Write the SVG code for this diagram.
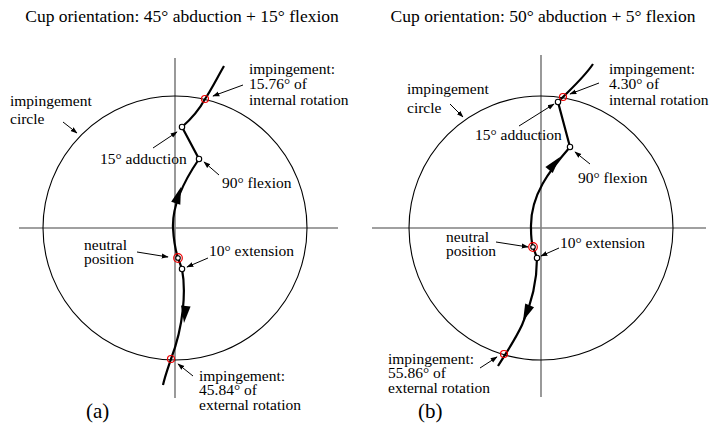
<svg xmlns="http://www.w3.org/2000/svg" xmlns:xlink="http://www.w3.org/1999/xlink" width="710" height="427" viewBox="0 0 710 427">
<style>
text{font-family:"Liberation Serif","Times New Roman",serif;fill:#000;font-size:15.5px}
.title{font-size:17.5px}
.cap{font-size:21px}
.axis{stroke:#808080;stroke-width:1.6;fill:none}
.circ{stroke:#000;stroke-width:1.1;fill:none}
.curve{stroke:#000;stroke-width:2.2;fill:none}
.lead{stroke:#000;stroke-width:1;fill:none;marker-end:url(#sa)}
.node{fill:#fff;stroke:#000;stroke-width:1.1}
.imp{fill:none;stroke:#e00;stroke-width:1.2}
</style>
<defs>
<marker id="sa" viewBox="0 0 10 10" refX="9" refY="5" markerWidth="7" markerHeight="7" markerUnits="userSpaceOnUse" orient="auto"><path d="M0,1.5 L10,5 L0,8.5 Z" fill="#000"/></marker>
<path id="ah" d="M0,0 L-17,-4.8 L-17,4.8 Z" fill="#000"/>
</defs>

<g id="panel-a">
<text class="title" x="182" y="22" text-anchor="middle">Cup orientation: 45° abduction + 15° flexion</text>
<g id="axes-a">
<line class="axis" x1="175" y1="58" x2="175" y2="398"/>
<line class="axis" x1="19" y1="228" x2="338" y2="228"/>
</g>
<circle id="circle-a" class="circ" cx="175" cy="228" r="132"/>
</g>

<g id="panel-b">
<text class="title" x="543" y="22" text-anchor="middle">Cup orientation: 50° abduction + 5° flexion</text>
<g id="axes-b">
<line class="axis" x1="541" y1="55" x2="541" y2="397"/>
<line class="axis" x1="372" y1="228" x2="706" y2="228"/>
</g>
<circle id="circle-b" class="circ" cx="541" cy="228" r="132"/>
</g>

<g id="connectors">
<path class="curve" d="M224,66 C216,80 211,90 205,99 C198,112 190,120 182,127 L199,159 C186,178 172,205 173,228 C174,245 176,252 178,258 L182,269 C186,290 184,325 171,359 C168,368 165,376 163,385"/>
<use xlink:href="#ah" transform="translate(181,187) rotate(-72)"/>
<use xlink:href="#ah" transform="translate(184,323) rotate(96)"/>
<path class="curve" d="M593,64 C585,76 572,88 563,97 L558,102 L570,147 C550,170 530,195 531,228 C531,240 532,244 533,247 L537,258 C537,285 531,305 522,325 C515,340 508,350 498,366"/>
<use xlink:href="#ah" transform="translate(560,157) rotate(-50)"/>
<use xlink:href="#ah" transform="translate(523,321) rotate(113)"/>

<line class="lead" x1="243" y1="85" x2="213" y2="96"/>
<line class="lead" x1="63" y1="122" x2="77" y2="133"/>
<line class="lead" x1="153" y1="148" x2="177" y2="132"/>
<line class="lead" x1="219" y1="175" x2="204" y2="162"/>
<line class="lead" x1="137" y1="252" x2="168" y2="257"/>
<line class="lead" x1="208" y1="258" x2="187" y2="267"/>
<line class="lead" x1="193" y1="376" x2="178" y2="364"/>

<line class="lead" x1="599" y1="83" x2="570" y2="94"/>
<line class="lead" x1="450" y1="104" x2="463" y2="117"/>
<line class="lead" x1="519" y1="126" x2="554" y2="104"/>
<line class="lead" x1="590" y1="164" x2="575" y2="152"/>
<line class="lead" x1="496" y1="242" x2="528" y2="247"/>
<line class="lead" x1="559" y1="248" x2="541" y2="256"/>
<line class="lead" x1="480" y1="368" x2="497" y2="357"/>
</g>

<g id="imp-top-a"><circle class="imp" cx="205" cy="99" r="3.5"/><text x="249" y="74">impingement:</text><text x="249" y="89">15.76° of</text><text x="249" y="105">internal rotation</text></g>
<g id="imp-circle-a"><text x="10" y="106">impingement</text><text x="10" y="124">circle</text></g>
<g id="adduction-a"><circle class="node" cx="182" cy="127" r="2.7"/><text x="100" y="164">15° adduction</text></g>
<g id="flexion-a"><circle class="node" cx="199" cy="159" r="2.7"/><text x="222" y="188">90° flexion</text></g>
<g id="neutral-a"><circle class="imp" cx="178" cy="258" r="4.3"/><circle class="node" cx="178" cy="258" r="2.3"/><text x="84" y="250">neutral</text><text x="84" y="264">position</text></g>
<g id="extension-a"><circle class="node" cx="182" cy="269" r="2.7"/><text x="209" y="256">10° extension</text></g>
<g id="imp-bottom-a"><circle class="imp" cx="171" cy="359" r="3.5"/><text x="199" y="381">impingement:</text><text x="199" y="395">45.84° of</text><text x="199" y="410">external rotation</text></g>
<text class="cap" x="86" y="418">(a)</text>

<g id="imp-top-b"><circle class="imp" cx="563" cy="97" r="3.5"/><text x="609" y="74">impingement:</text><text x="609" y="89">4.30° of</text><text x="609" y="105">internal rotation</text></g>
<g id="imp-circle-b"><text x="407" y="94">impingement</text><text x="407" y="113">circle</text></g>
<g id="adduction-b"><circle class="node" cx="558" cy="102" r="2.7"/><text x="475" y="140">15° adduction</text></g>
<g id="flexion-b"><circle class="node" cx="570" cy="147" r="2.7"/><text x="578" y="183">90° flexion</text></g>
<g id="neutral-b"><circle class="imp" cx="533" cy="247" r="4.3"/><circle class="node" cx="533" cy="247" r="2.3"/><text x="446" y="242">neutral</text><text x="446" y="256">position</text></g>
<g id="extension-b"><circle class="node" cx="537" cy="258" r="2.7"/><text x="560" y="248">10° extension</text></g>
<g id="imp-bottom-b"><circle class="imp" cx="504" cy="354" r="3.5"/><text x="388" y="364">impingement:</text><text x="388" y="378">55.86° of</text><text x="388" y="393">external rotation</text></g>
<text class="cap" x="418" y="418">(b)</text>
</svg>
